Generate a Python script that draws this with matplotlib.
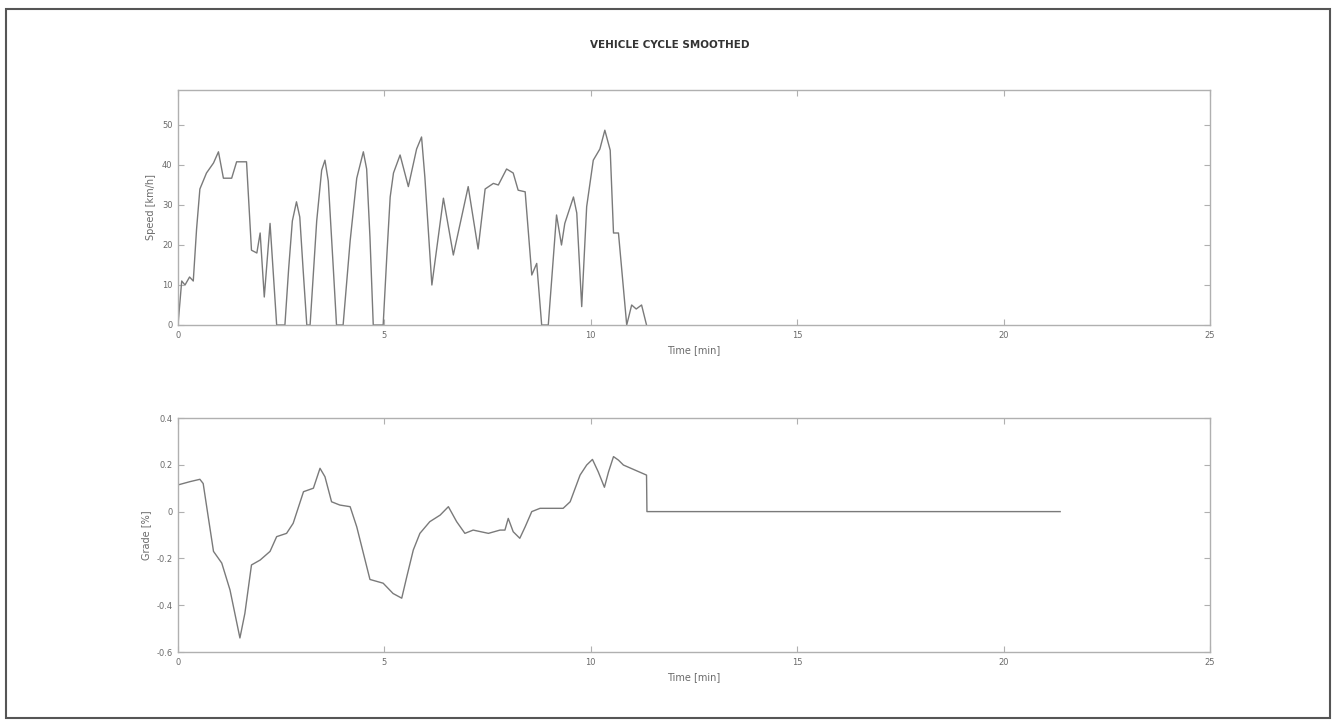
import numpy as np
import matplotlib.pyplot as plt
from matplotlib.patches import Rectangle

# speed trace [min, km/h]
speed_t = [0.0, 0.09, 0.17, 0.28, 0.37, 0.45, 0.53, 0.69, 0.86, 0.98, 1.10, 1.30, 1.42,
           1.66, 1.78, 1.91, 1.99, 2.09, 2.23, 2.39, 2.59, 2.68, 2.77, 2.87, 2.95, 3.03,
           3.12, 3.20, 3.36, 3.48, 3.56, 3.64, 3.76, 3.84, 4.00, 4.17, 4.33, 4.49, 4.57,
           4.65, 4.73, 4.97, 5.06, 5.14, 5.22, 5.38, 5.58, 5.78, 5.90, 5.98, 6.15, 6.43,
           6.67, 7.03, 7.27, 7.44, 7.64, 7.76, 7.96, 8.12, 8.24, 8.41, 8.57, 8.69, 8.81,
           8.97, 9.17, 9.29, 9.37, 9.58, 9.66, 9.78, 9.90, 10.06, 10.22, 10.34, 10.47,
           10.55, 10.67, 10.87, 10.99, 11.10, 11.23, 11.35]
speed_v = [0, 11, 10, 12, 11, 24, 34, 38, 40.5, 43.3, 36.7, 36.7, 40.8,
           40.8, 18.7, 18, 23, 7, 25.4, 0, 0, 14, 26, 30.8, 27, 14,
           0, 0, 26, 38.7, 41.2, 36, 14.6, 0, 0, 21, 36.7, 43.3, 39,
           22, 0, 0, 17.5, 32, 38, 42.5, 34.6, 44, 47, 37, 10, 31.7,
           17.5, 34.6, 19, 34, 35.4, 35, 39, 38, 33.7, 33.3, 12.5, 15.4, 0,
           0, 27.5, 20, 25.4, 32, 28, 4.6, 29.6, 41.2, 44, 48.7, 43.7,
           23, 23, 0, 5, 4, 5, 0]

# grade trace [min, %]
grade_t = [0.0, 0.29, 0.53, 0.61, 0.73, 0.86, 1.06, 1.26, 1.50, 1.62, 1.78, 1.99, 2.23,
           2.39, 2.63, 2.79, 3.04, 3.28, 3.44, 3.56, 3.72, 3.92, 4.17, 4.33, 4.65, 4.97,
           5.21, 5.42, 5.54, 5.70, 5.86, 6.10, 6.35, 6.55, 6.75, 6.95, 7.15, 7.52, 7.80,
           7.92, 8.00, 8.12, 8.28, 8.41, 8.57, 8.77, 9.33, 9.50, 9.74, 9.90, 10.04, 10.18,
           10.33, 10.43, 10.55, 10.67, 10.79, 11.35, 11.36, 21.37]
grade_v = [0.114, 0.128, 0.138, 0.12, -0.02, -0.17, -0.22, -0.335, -0.54, -0.435, -0.228,
           -0.207, -0.17, -0.107, -0.093, -0.05, 0.085, 0.10, 0.185, 0.149, 0.042, 0.028,
           0.021, -0.065, -0.29, -0.306, -0.35, -0.37, -0.28, -0.164, -0.093, -0.043,
           -0.015, 0.021, -0.043, -0.093, -0.079, -0.093, -0.079, -0.079, -0.029, -0.086,
           -0.114, -0.065, 0.0, 0.014, 0.014, 0.042, 0.156, 0.199, 0.223, 0.17, 0.104,
           0.17, 0.235, 0.22, 0.199, 0.156, 0.0, 0.0]

line_col = '#7a7a7a'
axis_col = '#b0b0b0'
text_col = '#6a6a6a'

fig = plt.figure(figsize=(13.39, 7.27), dpi=100)
fig.patches.append(Rectangle((6 / 1339, 1 - 718 / 727), 1324 / 1339, 709 / 727,
                             transform=fig.transFigure, fill=False,
                             edgecolor='#555555', linewidth=1.5))

W, H = 1339, 727
ax1 = fig.add_axes([178 / W, 1 - 325 / H, 1032 / W, 235 / H])
ax2 = fig.add_axes([178 / W, 1 - 652 / H, 1032 / W, 234 / H])

ax1.plot(speed_t, speed_v, color=line_col, linewidth=1.0)
ax1.set_xlim(0, 25)
ax1.set_ylim(0, 58.75)
ax1.set_yticks([0, 10, 20, 30, 40, 50])
ax1.set_ylabel('Speed [km/h]', fontsize=7, color=text_col, labelpad=4)

ax2.plot(grade_t, grade_v, color=line_col, linewidth=1.0)
ax2.set_xlim(0, 25)
ax2.set_ylim(-0.6, 0.4)
ax2.set_yticks([-0.6, -0.4, -0.2, 0, 0.2, 0.4])
ax2.set_yticklabels(['-0.6', '-0.4', '-0.2', '0', '0.2', '0.4'])
ax2.set_ylabel('Grade [%]', fontsize=7, color=text_col, labelpad=4)

for ax in (ax1, ax2):
    ax.set_xticks([0, 5, 10, 15, 20, 25])
    ax.set_xlabel('Time [min]', fontsize=7, color=text_col, labelpad=4)
    ax.tick_params(direction='in', top=True, right=True, length=4, width=0.8,
                   labelsize=6, colors=axis_col, labelcolor=text_col, pad=4)
    for s in ax.spines.values():
        s.set_color(axis_col)
        s.set_linewidth(1.0)

fig.text(0.5, 1 - 45 / H, 'VEHICLE CYCLE SMOOTHED', ha='center', va='center',
         fontsize=7.5, fontweight='bold', color='#333333')

fig.savefig('out.png', dpi=100, facecolor='white')
